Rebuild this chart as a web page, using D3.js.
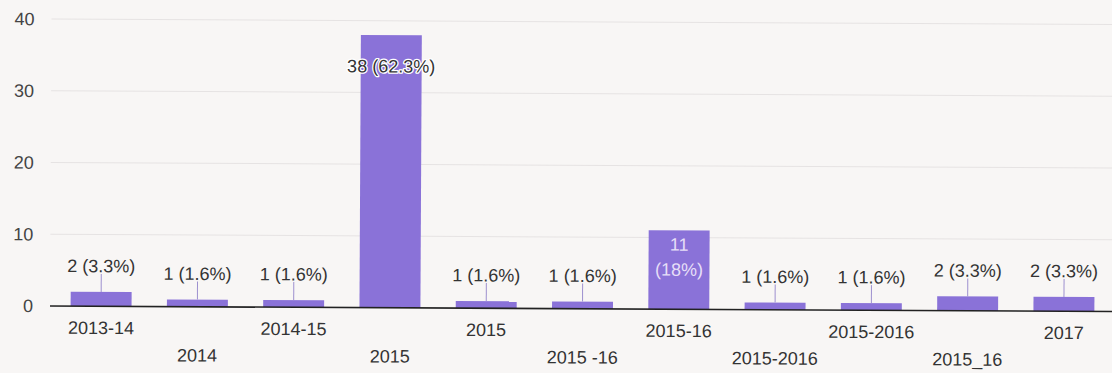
<!DOCTYPE html>
<html>
<head>
<meta charset="utf-8">
<script src="https://cdn.jsdelivr.net/npm/d3@7"></script>
<style>
  html, body { margin: 0; padding: 0; background: #f8f6f5; }
  svg { display: block; font-family: "Liberation Sans", Arial, sans-serif; }
</style>
</head>
<body>
<svg id="chart" width="1112" height="373"></svg>
<script>
// Responses per academic year
const categories = ["2013-14", "2014", "2014-15", "2015", "2015 ", "2015 -16", "2015-16", "2015-2016", "2015-2016 ", "2015_16", "2017"];
const counts = [2, 1, 1, 38, 1, 1, 11, 1, 1, 2, 2];
const yTicks = [0, 10, 20, 30, 40];

const total = d3.sum(counts);
const pct = v => {
  const p = (v / total * 100).toFixed(1);
  return p.endsWith(".0") ? p.slice(0, -2) : p;
};

const FONT = 18;
const left = 50, right = 1112, zeroY = 306, topY = 19;

const svg = d3.select("#chart");
// the printed page sits at a slight tilt
const g = svg.append("g").attr("transform", `rotate(0.3, ${left}, ${zeroY})`);

const x = d3.scaleBand()
  .domain(d3.range(categories.length))
  .range([53, right])
  .paddingInner(0.367)
  .paddingOuter(0.183);

const y = d3.scaleLinear().domain([0, 40]).range([zeroY, topY]);

// gridlines
g.append("g").selectAll("line")
  .data(yTicks.filter(t => t > 0))
  .join("line")
  .attr("x1", left).attr("x2", right)
  .attr("y1", d => y(d)).attr("y2", d => y(d))
  .attr("stroke", "#e6e3e3").attr("stroke-width", 1);

// y axis labels
const yAxis = d3.axisLeft(y).tickValues(yTicks).tickSize(0).tickPadding(0);
const ya = g.append("g").attr("transform", "translate(33,0)").call(yAxis);
ya.select(".domain").remove();
ya.selectAll("text")
  .attr("font-size", FONT).attr("fill", "#444")
  .attr("font-family", "Liberation Sans, Arial, sans-serif");

// bars
const barColor = "#8a72d8";
g.append("g").selectAll("rect")
  .data(counts)
  .join("rect")
  .attr("x", (d, i) => x(i))
  .attr("width", x.bandwidth())
  .attr("y", d => y(d))
  .attr("height", d => y(0) - y(d))
  .attr("fill", barColor);

// baseline
g.append("line")
  .attr("x1", left).attr("x2", right)
  .attr("y1", y(0)).attr("y2", y(0))
  .attr("stroke", "#222").attr("stroke-width", 1.6);

// x axis labels, staggered on two rows
const xAxis = d3.axisBottom(x).tickSize(0).tickFormat(i => categories[i].trim());
const xa = g.append("g").attr("transform", `translate(0,${y(0)})`).call(xAxis);
xa.select(".domain").remove();
xa.selectAll("text")
  .attr("y", (d, i) => i % 2 === 0 ? 22 : 49)
  .attr("dy", "0.32em")
  .attr("font-size", FONT).attr("fill", "#333")
  .attr("font-family", "Liberation Sans, Arial, sans-serif");

// value labels
const labels = g.append("g").attr("font-size", FONT).attr("text-anchor", "middle");
counts.forEach((v, i) => {
  const cx = x(i) + x.bandwidth() / 2;
  const top = y(v);
  const text = `${v} (${pct(v)}%)`;
  if (v >= 20) {
    labels.append("text")
      .attr("x", cx).attr("y", top + 31).attr("dy", "0.35em")
      .attr("fill", "#333").attr("stroke", "#fff").attr("stroke-width", 2.5)
      .attr("paint-order", "stroke").attr("stroke-linejoin", "round")
      .text(text);
  } else if (v >= 5) {
    labels.append("text")
      .attr("x", cx).attr("y", top + 14).attr("dy", "0.35em")
      .attr("fill", "#e6def7").text(`${v}`);
    labels.append("text")
      .attr("x", cx).attr("y", top + 39).attr("dy", "0.35em")
      .attr("fill", "#e6def7").text(`(${pct(v)}%)`);
  } else {
    labels.append("line")
      .attr("x1", cx).attr("x2", cx)
      .attr("y1", top).attr("y2", top - 18)
      .attr("stroke", "#9d90cf").attr("stroke-width", 1);
    labels.append("text")
      .attr("x", cx).attr("y", top - 26).attr("dy", "0.35em")
      .attr("fill", "#333").text(text);
  }
});
</script>
</body>
</html>
